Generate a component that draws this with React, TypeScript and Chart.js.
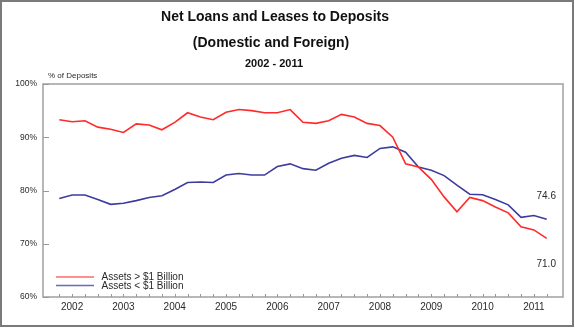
import React, { useEffect, useRef } from 'react';
import { Chart, registerables } from 'chart.js';

Chart.register(...registerables);

// ---- data ----
const years = ['2002', '2003', '2004', '2005', '2006', '2007', '2008', '2009', '2010', '2011'];
const quarterLabels = years
  .flatMap((y) => ['Q1', 'Q2', 'Q3', 'Q4'].map((q) => `${y} ${q}`))
  .slice(0, 39);

const largeBanks = [
  93.3, 92.9, 93.1, 91.9, 91.5, 90.9, 92.5, 92.3, 91.4, 92.8,
  94.6, 93.8, 93.3, 94.7, 95.2, 95.0, 94.6, 94.6, 95.2, 92.8,
  92.6, 93.1, 94.3, 93.8, 92.6, 92.2, 90.0, 85.0, 84.4, 82.1,
  78.8, 76.0, 78.7, 78.1, 76.9, 75.8, 73.2, 72.6, 71.0,
];
const smallBanks = [
  78.5, 79.15, 79.15, 78.3, 77.4, 77.6, 78.1, 78.7, 79.0, 80.2,
  81.5, 81.6, 81.5, 82.9, 83.2, 82.9, 82.9, 84.5, 85.0, 84.1,
  83.8, 85.1, 86.05, 86.6, 86.2, 87.9, 88.2, 87.2, 84.4, 83.8,
  82.8, 81.0, 79.3, 79.2, 78.3, 77.3, 74.95, 75.3, 74.6,
];
const yTicks = [60, 70, 80, 90, 100];
const seriesNames = ['Assets > $1 Billion', 'Assets < $1 Billion'];
const endLabels = ['71.0', '74.6'];
const titleLines = ['Net Loans and Leases to Deposits', '(Domestic and Foreign)', '2002 - 2011'];
const yAxisTitle = '% of Deposits';

const RED = '#ff2a2a';
const BLUE = '#3c3c9e';
const LEGEND_COLORS = ['#ff6a6a', '#6a6ab8'];
const FONT = "Arial, 'Liberation Sans', sans-serif";
const TEXT = '#2a2a2a';

const decorPlugin = {
  id: 'decor',
  beforeDraw(chart: any) {
    const ctx = chart.ctx;
    ctx.save();
    ctx.fillStyle = '#ffffff';
    ctx.fillRect(0, 0, chart.width, chart.height);
    ctx.restore();
  },
  afterDraw(chart: any) {
    const ctx = chart.ctx as CanvasRenderingContext2D;
    const { left, right, top, bottom } = chart.chartArea;
    const xs = chart.scales.x;
    const ys = chart.scales.y;
    ctx.save();

    // outer frame
    ctx.strokeStyle = '#7a7a7a';
    ctx.lineWidth = 2;
    ctx.strokeRect(1, 1, chart.width - 3, chart.height - 3);

    // titles
    ctx.fillStyle = '#111';
    ctx.textAlign = 'center';
    ctx.textBaseline = 'middle';
    ctx.font = `bold 14px ${FONT}`;
    ctx.fillText(titleLines[0], 275, 17);
    ctx.fillText(titleLines[1], 271, 43);
    ctx.font = `bold 11px ${FONT}`;
    ctx.fillText(titleLines[2], 274, 64);

    // y axis title
    ctx.fillStyle = TEXT;
    ctx.font = `8px ${FONT}`;
    ctx.textAlign = 'left';
    ctx.fillText(yAxisTitle, 48, 76);

    // plot border
    ctx.strokeStyle = '#a0a0a0';
    ctx.lineWidth = 1.5;
    ctx.strokeRect(left, top, right - left, bottom - top);

    // inward ticks
    ctx.lineWidth = 1;
    ctx.strokeStyle = '#999';
    yTicks.forEach((v) => {
      const y = Math.round(ys.getPixelForValue(v)) + 0.5;
      ctx.beginPath();
      ctx.moveTo(left, y);
      ctx.lineTo(left + 6, y);
      ctx.stroke();
    });
    quarterLabels.forEach((_, i) => {
      const x = Math.round(xs.getPixelForValue(i)) + 0.5;
      ctx.beginPath();
      ctx.moveTo(x, bottom);
      ctx.lineTo(x, bottom - 3);
      ctx.stroke();
    });

    // legend
    ctx.font = `10px ${FONT}`;
    ctx.textAlign = 'left';
    ctx.textBaseline = 'middle';
    LEGEND_COLORS.forEach((c, i) => {
      const y = 277 + i * 8.5;
      ctx.strokeStyle = c;
      ctx.lineWidth = 1.5;
      ctx.beginPath();
      ctx.moveTo(56, y);
      ctx.lineTo(94, y);
      ctx.stroke();
      ctx.fillStyle = TEXT;
      ctx.fillText(seriesNames[i], 101.5, y + 0.5);
    });

    // end labels
    const lastIdx = largeBanks.length - 1;
    const lx = xs.getPixelForValue(lastIdx) - 0.5;
    ctx.textAlign = 'center';
    ctx.fillStyle = TEXT;
    ctx.font = `10px ${FONT}`;
    ctx.fillText(endLabels[0], lx, ys.getPixelForValue(largeBanks[lastIdx]) + 26);
    ctx.fillText(endLabels[1], lx, ys.getPixelForValue(smallBanks[lastIdx]) - 23);

    ctx.restore();
  },
};

export default function App() {
  const ref = useRef<HTMLCanvasElement>(null);

  useEffect(() => {
    document.body.style.margin = '0';
    const canvas = ref.current!;
    const chart = new Chart(canvas, {
      type: 'line',
      data: {
        datasets: [
          {
            label: seriesNames[0],
            data: largeBanks.map((v, i) => ({ x: i, y: v })),
            borderColor: RED,
            borderWidth: 1.6,
            pointRadius: 0,
            tension: 0,
            fill: false,
          },
          {
            label: seriesNames[1],
            data: smallBanks.map((v, i) => ({ x: i, y: v })),
            borderColor: BLUE,
            borderWidth: 1.6,
            pointRadius: 0,
            tension: 0,
            fill: false,
          },
        ],
      },
      options: {
        responsive: false,
        animation: false,
        devicePixelRatio: 1,
        layout: { padding: { top: 84, right: 12, left: 0, bottom: 0 } },
        plugins: {
          legend: { display: false },
          title: { display: false },
          tooltip: { enabled: false },
        },
        scales: {
          x: {
            type: 'linear',
            min: -1.27,
            max: quarterLabels.length - 1 + 1.27,
            grid: { display: false, drawTicks: false },
            border: { display: false },
            afterBuildTicks: (s: any) => {
              s.ticks = quarterLabels.map((_, i) => ({ value: i }));
            },
            afterFit: (s: any) => {
              s.height = 31;
            },
            ticks: {
              autoSkip: false,
              maxRotation: 0,
              padding: 4,
              color: TEXT,
              font: { family: FONT, size: 10 },
              callback: (v: any) => {
                const i = Math.round(Number(v));
                return i % 4 === 1 ? years[(i - 1) / 4] : '';
              },
            },
          },
          y: {
            min: 60,
            max: 100,
            grid: { display: false, drawTicks: false },
            border: { display: false },
            afterBuildTicks: (s: any) => {
              s.ticks = yTicks.map((v) => ({ value: v }));
            },
            afterFit: (s: any) => {
              s.width = 43;
            },
            ticks: {
              padding: 6,
              color: TEXT,
              font: { family: FONT, size: 8.5 },
              callback: (v: any) => `${v}%`,
            },
          },
        },
      },
      plugins: [decorPlugin],
    });
    return () => chart.destroy();
  }, []);

  return <canvas ref={ref} width={575} height={328} style={{ display: 'block' }} />;
}
